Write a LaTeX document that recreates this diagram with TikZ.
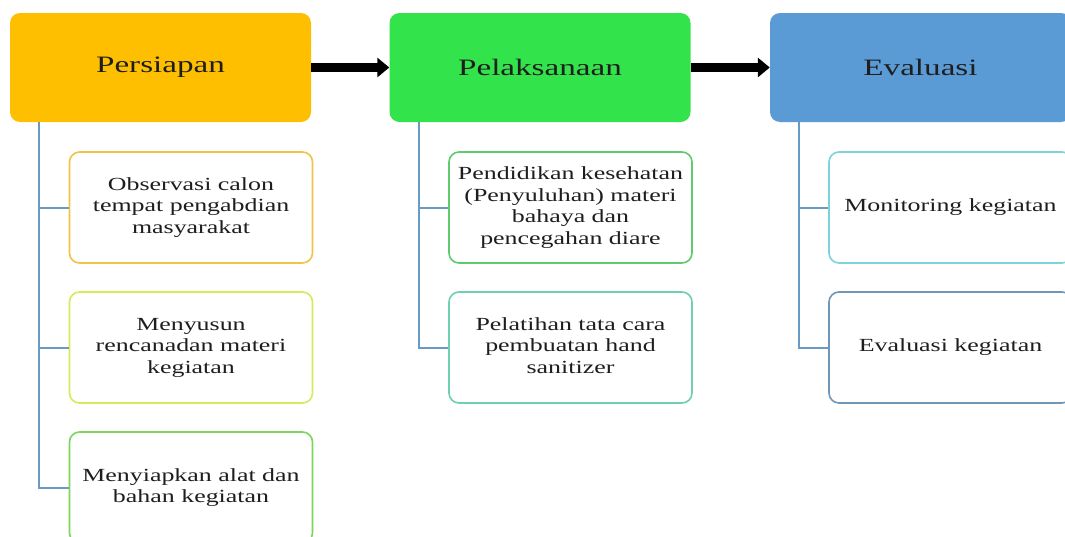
\documentclass[tikz,border=0pt]{standalone}
\usepackage{fontspec}
\setmainfont{Liberation Serif}
\usetikzlibrary{arrows.meta}
\definecolor{cPers}{RGB}{254,191,0}
\definecolor{cPel}{RGB}{51,227,76}
\definecolor{cEva}{RGB}{91,155,213}
\definecolor{cLine}{RGB}{104,154,198}
\definecolor{cTxt}{RGB}{30,30,30}
\definecolor{bA}{RGB}{240,196,72}
\definecolor{bB}{RGB}{214,234,92}
\definecolor{bC}{RGB}{124,214,92}
\definecolor{bD}{RGB}{96,202,112}
\definecolor{bE}{RGB}{110,208,172}
\definecolor{bF}{RGB}{122,212,218}
\definecolor{bG}{RGB}{112,150,186}
\newcommand{\hdtext}[1]{\scalebox{1.41}[1]{\fontsize{23.5}{27}\selectfont #1}}
\newcommand{\chtext}[1]{\scalebox{1.4}[1]{\fontsize{18.5}{21.5}\selectfont\begin{tabular}{@{}c@{}}#1\end{tabular}}}
\tikzset{
  header/.style={draw=none, rounded corners=10pt, minimum width=301pt, minimum height=109pt, inner sep=0pt, text=cTxt},
  child/.style={draw=#1, line width=1.6pt, fill=white, rounded corners=10pt, minimum width=243pt, minimum height=111pt, inner sep=0pt, text=cTxt},
  flow/.style={line width=9pt, -{Triangle[length=12pt,width=19pt]}},
  branch/.style={draw=cLine, line width=2pt}
}
\begin{document}
\begin{tikzpicture}[x=1pt,y=-1pt]
\clip (0,0) rectangle (1065,536);
\fill[white] (0,0) rectangle (1065,536);
% headers
\node[header, fill=cPers] (h1) at (160.5,67.5) {\hdtext{Persiapan}};
\node[header, fill=cPel] (h2) at (540,67.5) {\hdtext{Pelaksanaan}};
\node[header, fill=cEva] (h3) at (920.5,67.5) {\hdtext{Evaluasi}};
% trunk starts
\coordinate (t1) at (39,122);
\coordinate (t2) at (419,122);
\coordinate (t3) at (799,122);
% children
\node[child=bA] (c11) at (191,207.5) {\chtext{Observasi calon\\tempat pengabdian\\masyarakat}};
\node[child=bB] (c12) at (191,347.5) {\chtext{Menyusun\\rencanadan materi\\kegiatan}};
\node[child=bC] (c13) at (191,487.5) {\chtext{Menyiapkan alat dan\\bahan kegiatan}};
\node[child=bD] (c21) at (570.5,207.5) {\chtext{Pendidikan kesehatan\\(Penyuluhan) materi\\bahaya dan\\pencegahan diare}};
\node[child=bE] (c22) at (570.5,347.5) {\chtext{Pelatihan tata cara\\pembuatan hand\\sanitizer}};
\node[child=bF] (c31) at (950.5,207.5) {\chtext{Monitoring kegiatan}};
\node[child=bG] (c32) at (950.5,347.5) {\chtext{Evaluasi kegiatan}};
% branches
\draw[branch] (t1) |- (c11.west);
\draw[branch] (t1) |- (c12.west);
\draw[branch] (t1) |- (c13.west);
\draw[branch] (t2) |- (c21.west);
\draw[branch] (t2) |- (c22.west);
\draw[branch] (t3) |- (c31.west);
\draw[branch] (t3) |- (c32.west);
% flow arrows
\draw[flow] (h1.east) -- (h2.west);
\draw[flow] (h2.east) -- (h3.west);
\end{tikzpicture}
\end{document}
